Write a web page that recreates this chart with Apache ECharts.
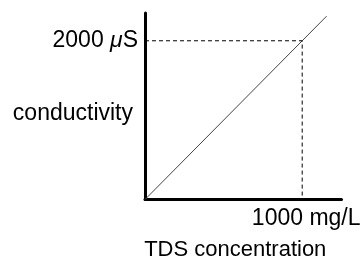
<!DOCTYPE html>
<html>
<head>
<meta charset="utf-8">
<script src="https://cdn.jsdelivr.net/npm/echarts@6/dist/echarts.min.js"></script>
<style>html,body{margin:0;padding:0;background:#fff;}#c{width:361px;height:258px;}</style>
</head>
<body>
<div id="c"></div>
<script>
const xLabel = '1000 mg/L';
const yLabelNum = '2000 ';
const yLabelUnitMu = '\u03bc';
const yLabelUnitRest = 'S';
const xName = 'TDS concentration';
const yName = 'conductivity';
const xRange = [0, 1250];
const yRange = [0, 2350];
const tdsValues = [0, 1155];
const condValues = [0, 2310];
const markX = 1000;
const markY = 2000;

const font = 'Liberation Sans, Arial, Helvetica, sans-serif';
const chart = echarts.init(document.getElementById('c'), null, {renderer: 'canvas'});
chart.setOption({
  animation: false,
  grid: {left: 145, top: 13, right: 19.5, bottom: 58.5, containLabel: false, outerBoundsMode: 'none'},
  xAxis: {
    type: 'value', min: xRange[0], max: xRange[1], interval: 1000,
    axisLine: {show: true, lineStyle: {color: '#000', width: 3}},
    axisTick: {show: false}, splitLine: {show: false},
    axisLabel: {
      color: '#000', fontSize: 23, fontFamily: font, margin: 8,
      showMinLabel: false, showMaxLabel: false, hideOverlap: false,
      formatter: v => v === markX ? xLabel : '', padding: [0, 0, 0, 8]
    },
    name: xName, nameLocation: 'middle', nameGap: 39, nameMoveOverlap: false,
    nameTextStyle: {color: '#000', fontSize: 22, fontFamily: font, padding: [0, 16, 0, 0]}
  },
  yAxis: {
    type: 'value', min: yRange[0], max: yRange[1], interval: 1000,
    axisLine: {show: true, lineStyle: {color: '#000', width: 3}},
    axisTick: {show: false}, splitLine: {show: false},
    axisLabel: {
      color: '#000', fontSize: 23, fontFamily: font, margin: 7,
      showMinLabel: false, showMaxLabel: false, hideOverlap: false,
      formatter: v => v === markY ? yLabelNum + '{mu|' + yLabelUnitMu + '}' + yLabelUnitRest : '',
      rich: {mu: {fontStyle: 'italic', fontSize: 23, fontFamily: font, color: '#000'}}
    },
    name: yName, nameLocation: 'middle', nameGap: 12, nameRotate: 0, nameMoveOverlap: false,
    nameTextStyle: {color: '#000', fontSize: 23, fontFamily: font, align: 'right', verticalAlign: 'top', lineHeight: 14}
  },
  series: [
    {
      type: 'line', symbol: 'none', silent: true,
      data: tdsValues.map((x, i) => [x, condValues[i]]),
      lineStyle: {color: '#444', width: 1}
    },
    {
      type: 'line', symbol: 'none', silent: true,
      data: [[xRange[0], markY], [markX, markY], [markX, yRange[0]]],
      lineStyle: {color: '#000', width: 1, type: [4, 3]}
    }
  ]
});
</script>
</body>
</html>
